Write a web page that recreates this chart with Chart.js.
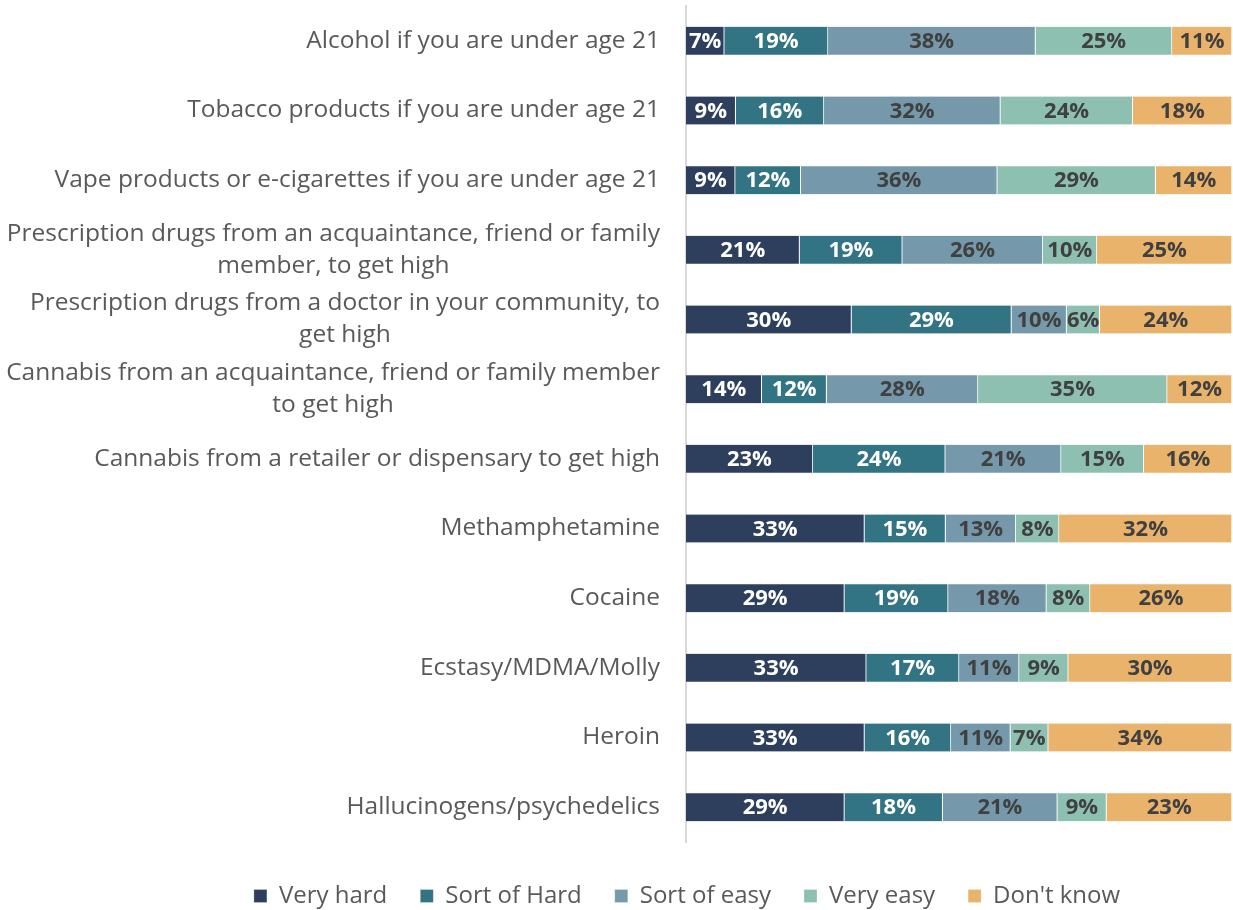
<!DOCTYPE html>
<html>
<head>
<meta charset="utf-8">
<script src="https://cdn.jsdelivr.net/npm/chart.js@4/dist/chart.umd.min.js"></script>
<style>
  html, body { margin: 0; padding: 0; background: #fff; }
  #wrap { width: 1233px; height: 910px; position: relative; }
</style>
</head>
<body>
<div id="wrap"><canvas id="c" width="1233" height="910"></canvas></div>
<script>
// Survey items: how hard would it be to get each of these
const categories = [
  'Alcohol if you are under age 21',
  'Tobacco products if you are under age 21',
  'Vape products or e-cigarettes if you are under age 21',
  ['Prescription drugs from an acquaintance, friend or family', 'member, to get high'],
  ['Prescription drugs from a doctor in your community, to', 'get high'],
  ['Cannabis from an acquaintance, friend or family member', 'to get high'],
  'Cannabis from a retailer or dispensary to get high',
  'Methamphetamine',
  'Cocaine',
  'Ecstasy/MDMA/Molly',
  'Heroin',
  'Hallucinogens/psychedelics'
];

const seriesNames = ['Very hard', 'Sort of Hard', 'Sort of easy', 'Very easy', "Don't know"];

// Percent of respondents per answer
const veryHard  = [7, 9, 9, 21, 30, 14, 23, 33, 29, 33, 33, 29];
const sortOfHard = [19, 16, 12, 19, 29, 12, 24, 15, 19, 17, 16, 18];
const sortOfEasy = [38, 32, 36, 26, 10, 28, 21, 13, 18, 11, 11, 21];
const veryEasy  = [25, 24, 29, 10, 6, 35, 15, 8, 8, 9, 7, 9];
const dontKnow  = [11, 18, 14, 25, 24, 12, 16, 32, 26, 30, 34, 23];

const seriesValues = [veryHard, sortOfHard, sortOfEasy, veryEasy, dontKnow];
const seriesColors = ['#2E3F5E', '#327483', '#7599AA', '#8DC0B0', '#EAB36C'];
const labelColors  = ['#FFFFFF', '#FFFFFF', '#404040', '#404040', '#404040'];

// 100% stacked: each row is scaled to its own total
const rowTotals = categories.map((_, i) => seriesValues.reduce((s, arr) => s + arr[i], 0));

const FONT = '"Open Sans", Lato, sans-serif';

const datasets = seriesNames.map((name, k) => ({
  label: name,
  data: seriesValues[k].map((v, i) => v / rowTotals[i] * 100),
  rawValues: seriesValues[k],
  backgroundColor: seriesColors[k],
  borderColor: '#FFFFFF',
  borderWidth: { top: 0, bottom: 0, left: 0, right: 1 },
  borderSkipped: false,
  labelColor: labelColors[k]
}));

// Percent labels centred in each segment
const segmentLabels = {
  id: 'segmentLabels',
  afterDatasetsDraw(chart) {
    const ctx = chart.ctx;
    ctx.save();
    ctx.font = 'bold 22px ' + FONT;
    ctx.textAlign = 'center';
    ctx.textBaseline = 'middle';
    chart.data.datasets.forEach((ds, k) => {
      const meta = chart.getDatasetMeta(k);
      if (meta.hidden) return;
      meta.data.forEach((el, i) => {
        const cx = (el.x + el.base) / 2;
        ctx.fillStyle = ds.labelColor;
        ctx.fillText(ds.rawValues[i] + '%', cx, el.y + 1);
      });
    });
    ctx.restore();
  }
};

// Category labels: right-aligned block, wrapped lines centred within it
const categoryLabels = {
  id: 'categoryLabels',
  afterDraw(chart) {
    const ctx = chart.ctx;
    const yScale = chart.scales.y;
    const right = chart.chartArea.left - 26;
    const lineH = 32;
    ctx.save();
    ctx.font = '24.5px ' + FONT;
    ctx.fillStyle = '#595959';
    ctx.textBaseline = 'middle';
    ctx.textAlign = 'center';
    chart.data.labels.forEach((lab, i) => {
      const y = yScale.getPixelForValue(i);
      const lines = Array.isArray(lab) ? lab : [lab];
      const maxW = Math.max(...lines.map(l => ctx.measureText(l).width));
      const cx = right - maxW / 2;
      const y0 = y - (lines.length - 1) * lineH / 2;
      lines.forEach((l, j) => ctx.fillText(l, cx, y0 + j * lineH));
    });
    ctx.restore();
  }
};

// Legend band: fixed height at the foot, centred a little right of the canvas middle
const legendBand = {
  id: 'legendBand',
  afterInit(chart) {
    const legend = chart.legend;
    if (!legend) return;
    const baseFit = legend.fit.bind(legend);
    legend.fit = function () { baseFit(); this.height = 59; };
  },
  afterLayout(chart) {
    const legend = chart.legend;
    if (!legend) return;
    legend.left += 71;
    legend.right += 71;
  }
};

new Chart(document.getElementById('c'), {
  type: 'bar',
  data: { labels: categories, datasets },
  options: {
    indexAxis: 'y',
    responsive: false,
    animation: false,
    layout: { padding: { top: 6, right: 1, left: 0, bottom: 0 } },
    datasets: { bar: { barThickness: 28 } },
    scales: {
      x: {
        stacked: true, min: 0, max: 100,
        grid: { display: false },
        border: { display: false },
        ticks: { display: false },
        afterFit(scale) { scale.height = 9; }
      },
      y: {
        stacked: true,
        grid: { display: false },
        border: { display: true, color: '#D9D9D9', width: 2 },
        ticks: { display: false },
        afterFit(scale) { scale.width = 686; }
      }
    },
    plugins: {
      legend: {
        position: 'bottom',
        labels: {
          boxWidth: 13,
          boxHeight: 13,
          padding: 33,
          color: '#595959',
          font: { family: FONT, size: 24 }
        }
      },
      tooltip: { enabled: false }
    }
  },
  plugins: [segmentLabels, categoryLabels, legendBand]
});
</script>
</body>
</html>
